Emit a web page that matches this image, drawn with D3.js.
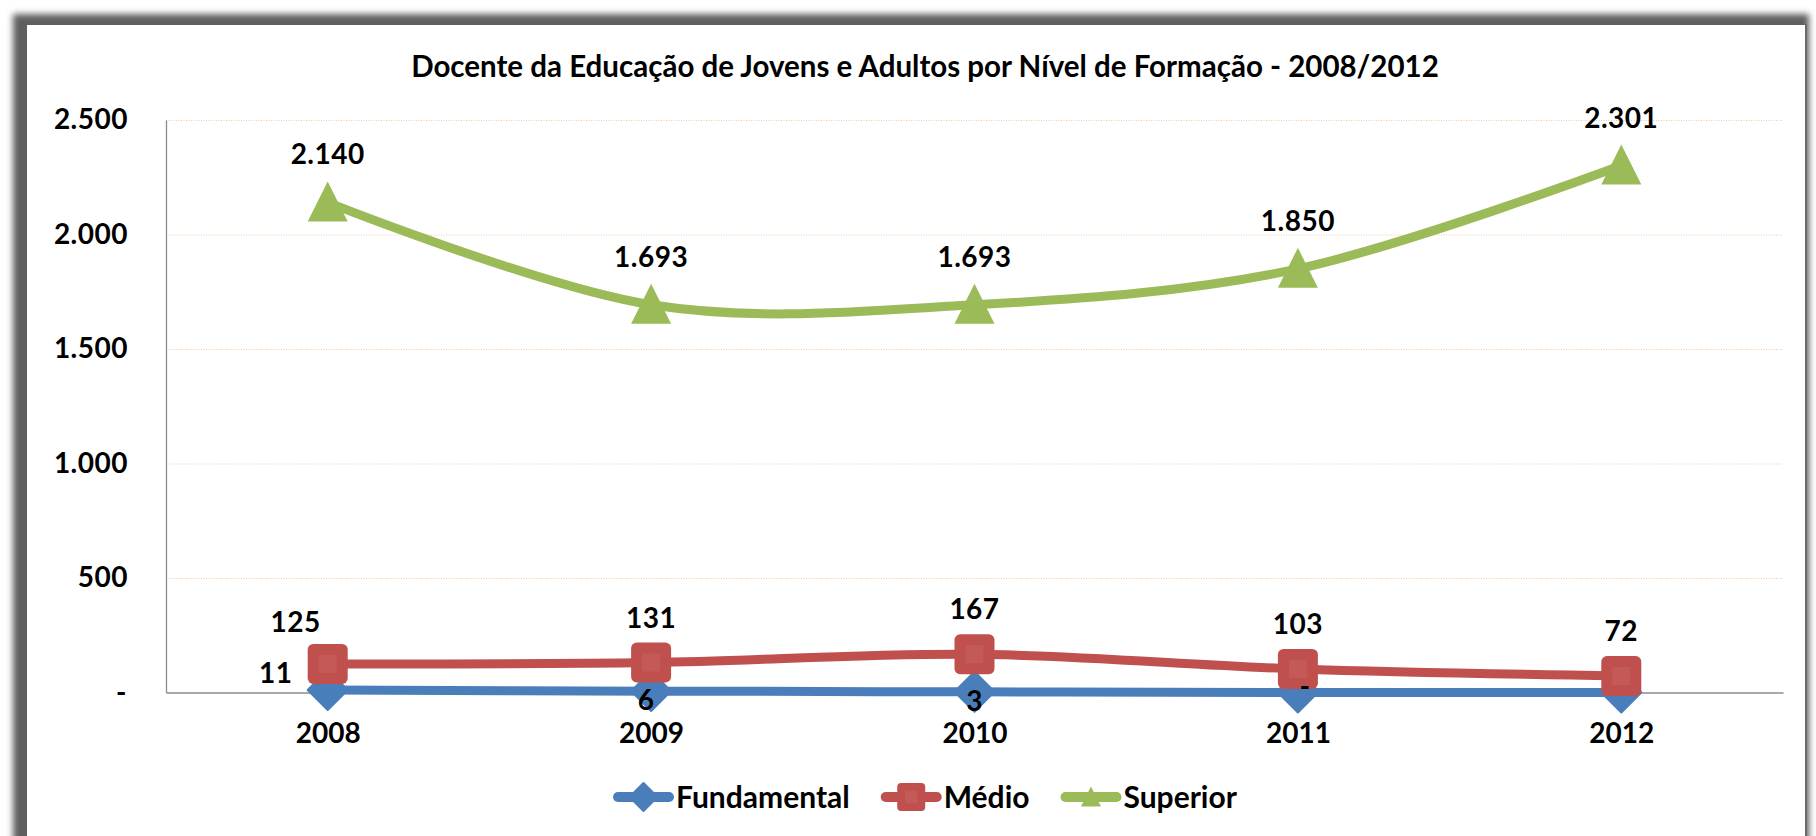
<!DOCTYPE html>
<html>
<head>
<meta charset="UTF-8">
<title>Docente da Educação de Jovens e Adultos</title>
<script src="https://d3js.org/d3.v7.min.js"></script>
<style>
  body { margin: 0; background: #fff; }
  svg text { font-family: "Lato", "DejaVu Sans", sans-serif; font-weight: bold; fill: #000; }
  .grid line { stroke: #f7c8a0; stroke-dasharray: 1 1.5; }
  .grid .domain { display: none; }
</style>
</head>
<body>
<svg id="chart" width="1816" height="836"></svg>
<script>
// data
var years = ["2008", "2009", "2010", "2011", "2012"];
var fundamental = [11, 6, 3, 0, 0];
var medio = [125, 131, 167, 103, 72];
var superior = [2140, 1693, 1693, 1850, 2301];
var yTicks = [0, 500, 1000, 1500, 2000, 2500];
var seriesNames = ["Fundamental", "Médio", "Superior"];
var colors = ["#4a7ebb", "#c0504d", "#9bbb59"];

var svg = d3.select("#chart");
var W = 1816, H = 836;

// plot area
var pLeft = 166, pRight = 1783, pTop = 120, pBottom = 692.5;

var x = d3.scalePoint().domain(years).range([pLeft, pRight]).padding(0.5);
var y = d3.scaleLinear().domain([0, 2500]).range([pBottom, pTop]);

var br = d3.formatLocale({decimal: ",", thousands: ".", grouping: [3], currency: ["R$", ""]});
var fmt = function(v) { return v === 0 ? "-" : br.format(",")(v); };

// frame with shadow
var defs = svg.append("defs");
defs.append("filter").attr("id", "blur").attr("x", "-5%").attr("y", "-5%").attr("width", "110%").attr("height", "110%")
  .append("feGaussianBlur").attr("stdDeviation", 3);
svg.append("rect").attr("x", 13).attr("y", 14).attr("width", 1796).attr("height", 900)
  .attr("fill", "#5e5e5e").attr("filter", "url(#blur)");
svg.append("rect").attr("x", 27).attr("y", 25).attr("width", 1778).attr("height", 900)
  .attr("fill", "#fff");
svg.append("line").attr("x1", 1806).attr("x2", 1806).attr("y1", 24).attr("y2", H)
  .attr("stroke", "#6a6a6a").attr("stroke-width", 2);

// title
svg.append("text")
  .attr("x", 925).attr("y", 77)
  .attr("text-anchor", "middle")
  .style("font-size", "29.5px")
  .text("Docente da Educação de Jovens e Adultos por Nível de Formação - 2008/2012");

// gridlines
svg.append("g").attr("class", "grid")
  .attr("transform", "translate(" + pLeft + ",0)")
  .call(d3.axisLeft(y).tickValues(yTicks.slice(1)).tickSize(-(pRight - pLeft)).tickFormat(""));

// y axis
var yAxis = svg.append("g")
  .attr("transform", "translate(" + pLeft + ",0)")
  .call(d3.axisLeft(y).tickValues(yTicks).tickSize(0).tickPadding(38).tickFormat(fmt));
yAxis.select(".domain").attr("stroke", "#8c8c8c").attr("stroke-width", 1.3);
yAxis.selectAll("text").style("font-size", "28px").style("letter-spacing", "0.5px")
  .attr("dx", function(d) { return d === 0 ? -1 : 0; });

// x axis
var xAxis = svg.append("g")
  .attr("transform", "translate(0," + pBottom + ")")
  .call(d3.axisBottom(x).tickSize(0));
xAxis.select(".domain").attr("stroke", "#8c8c8c").attr("stroke-width", 1.3);
xAxis.selectAll("text").style("font-size", "28px")
  .attr("y", 50).attr("dy", 0);

// series
var series = [fundamental, medio, superior];
var line = d3.line()
  .x(function(d, i) { return x(years[i]); })
  .y(function(d) { return y(d); })
  .curve(d3.curveCardinal.tension(0));

function marker(sel, k, size) {
  var h = size / 2;
  if (k === 0) {
    sel.append("path").attr("d", "M0," + (-h) + "L" + h + ",0L0," + h + "L" + (-h) + ",0Z")
      .attr("fill", colors[0]).attr("stroke", colors[0]).attr("stroke-linejoin", "round").attr("stroke-width", 2);
  } else if (k === 1) {
    sel.append("rect").attr("x", -h).attr("y", -h).attr("width", size).attr("height", size)
      .attr("rx", size * 0.14).attr("fill", colors[1]);
    sel.append("rect").attr("x", -h * 0.45).attr("y", -h * 0.45).attr("width", size * 0.45).attr("height", size * 0.45)
      .attr("fill", "#fff").attr("opacity", 0.06);
  } else {
    sel.append("path").attr("d", "M0," + (-h * 1.05) + "L" + h + "," + (h * 0.95) + "L" + (-h) + "," + (h * 0.95) + "Z")
      .attr("fill", colors[2]);
  }
}

series.forEach(function(vals, k) {
  var g = svg.append("g");
  g.append("path").datum(vals)
    .attr("d", line)
    .attr("fill", "none")
    .attr("stroke", colors[k])
    .attr("stroke-width", 9)
    .attr("stroke-linecap", "round");
  vals.forEach(function(v, i) {
    var m = g.append("g").attr("transform", "translate(" + x(years[i]) + "," + y(v) + ")");
    marker(m, k, 40);
  });
});

// data labels (manual nudges like the original)
var nudge = [
  [[-52, -7], [-5, 19], [0, 19], [7, 3], null],
  [[-32, -32], [0, -35], [0, -35], [0, -35], [0, -35]],
  [[0, -38], [0, -38], [0, -38], [0, -38], [0, -38]]
];
series.forEach(function(vals, k) {
  vals.forEach(function(v, i) {
    var n = nudge[k][i];
    if (!n) return;
    svg.append("text")
      .attr("x", x(years[i]) + n[0])
      .attr("y", y(v) + n[1])
      .attr("text-anchor", "middle")
      .style("font-size", "28px")
      .style("letter-spacing", "0.5px")
      .text(fmt(v));
  });
});

// legend
var legend = svg.append("g").attr("transform", "translate(0,797)");
var lx = 613;
seriesNames.forEach(function(name, k) {
  var item = legend.append("g").attr("transform", "translate(" + lx + ",0)");
  item.append("line").attr("x1", 5).attr("x2", 56).attr("y1", 0).attr("y2", 0)
    .attr("stroke", colors[k]).attr("stroke-width", 10).attr("stroke-linecap", "round");
  var m = item.append("g").attr("transform", "translate(30.5,0)");
  marker(m, k, k === 2 ? 20 : 28);
  var t = item.append("text").attr("x", 63).attr("y", 11).style("font-size", "30px").text(name);
  lx += 63 + t.node().getComputedTextLength() + 31;
});
</script>
</body>
</html>
